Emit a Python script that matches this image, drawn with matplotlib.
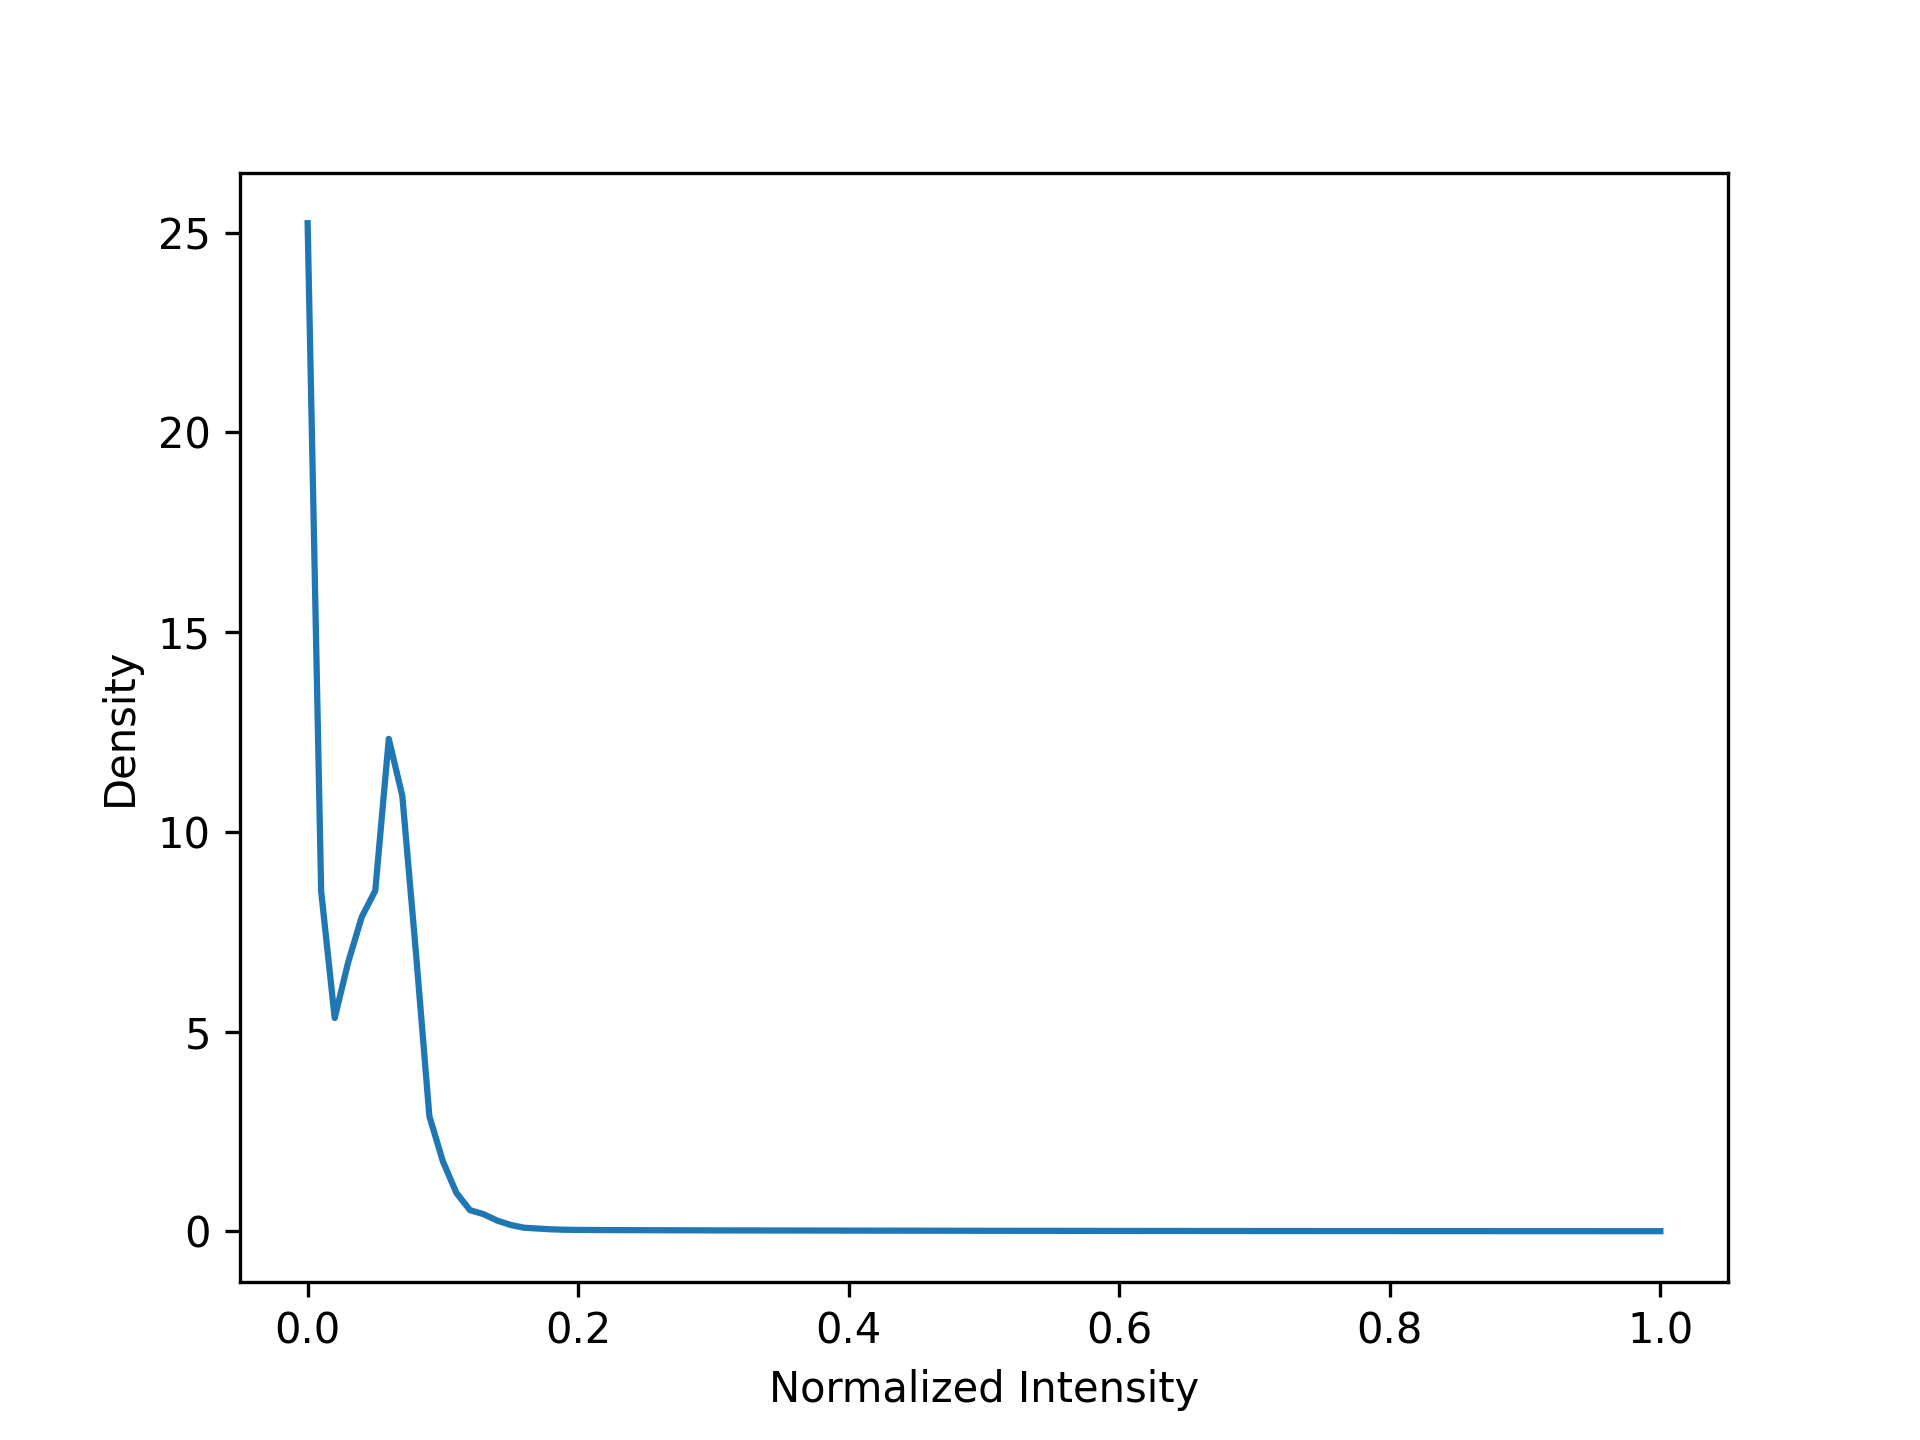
import numpy as np
import matplotlib.pyplot as plt

# intensity grid, 101 bins from 0 to 1
intensity = np.linspace(0, 1, 101)

density = [25.24, 8.51, 5.34, 6.74, 7.87, 8.53, 12.33, 10.9, 7.0, 2.88,
           1.75, 0.96, 0.53, 0.43, 0.27, 0.16, 0.09, 0.07, 0.05, 0.04,
           0.035, 0.033, 0.031, 0.030, 0.029, 0.028, 0.027, 0.026, 0.025, 0.024,
           0.023, 0.023, 0.022, 0.022, 0.021, 0.021, 0.020, 0.020, 0.019, 0.019,
           0.018, 0.018, 0.017, 0.017, 0.016, 0.016, 0.015, 0.015, 0.014, 0.014,
           0.013, 0.013, 0.013, 0.012, 0.012, 0.012, 0.011, 0.011, 0.011, 0.010,
           0.010, 0.010, 0.009, 0.009, 0.009, 0.009, 0.008, 0.008, 0.008, 0.008,
           0.007, 0.007, 0.007, 0.007, 0.007, 0.006, 0.006, 0.006, 0.006, 0.006,
           0.006, 0.005, 0.005, 0.005, 0.005, 0.005, 0.005, 0.005, 0.004, 0.004,
           0.004, 0.004, 0.004, 0.004, 0.004, 0.004, 0.003, 0.003, 0.003, 0.003,
           0.003]

plt.figure(figsize=(6.4, 4.8))
plt.plot(intensity, density)
plt.xlabel('Normalized Intensity')
plt.ylabel('Density')

plt.savefig('out.png', dpi=300)
